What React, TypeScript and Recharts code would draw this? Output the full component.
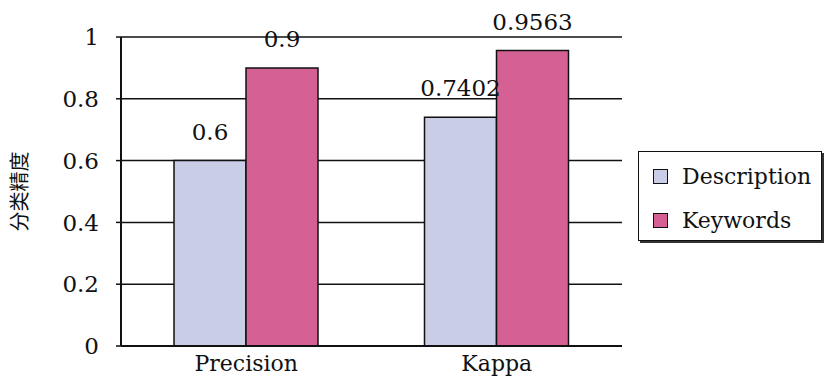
import { FC } from "react";
import {
  BarChart,
  Bar,
  XAxis,
  YAxis,
  CartesianGrid,
  LabelList,
} from "recharts";

const categories = ["Precision", "Kappa"];
const descriptionValues = [0.6, 0.7402];
const keywordsValues = [0.9, 0.9563];
const yTicks = [0, 0.2, 0.4, 0.6, 0.8, 1];
// category boundaries, where the x axis has its small inward ticks
const boundaryTicks = [1, 2];

const chartData = categories.map((name, i) => ({
  name,
  description: descriptionValues[i],
  keywords: keywordsValues[i],
}));

const FONT = "DejaVu Serif, serif";
const DESC_COLOR = "#c9cee6";
const KEY_COLOR = "#d56094";
const BORDER_BLUE = "#a9c3dd";

const series = [
  { name: "Description", color: DESC_COLOR },
  { name: "Keywords", color: KEY_COLOR },
];

// legend drawn as a plain box to the right of the plot
const LegendBox: FC = () => (
  <div
    style={{
      position: "absolute",
      left: 638,
      top: 151,
      width: 184,
      height: 90,
      border: "1.5px solid #111",
      boxShadow: "2px 2px 0 #333",
      background: "#fff",
      boxSizing: "border-box",
      padding: "2px 0 0 14px",
      fontFamily: FONT,
      fontSize: 22,
      color: "#111",
    }}
  >
    {series.map((s) => (
      <div
        key={s.name}
        style={{ display: "flex", alignItems: "center", height: 44 }}
      >
        <span
          style={{
            display: "inline-block",
            width: 15,
            height: 15,
            boxSizing: "border-box",
            background: s.color,
            border: "1.5px solid #111",
            marginRight: 14,
          }}
        />
        {s.name}
      </div>
    ))}
  </div>
);

const App: FC = () => {
  return (
    <div style={{ position: "relative", width: 827, height: 388 }}>
      <style>{`body{margin:0;background:#fff}`}</style>
      <BarChart
        width={827}
        height={388}
        data={chartData}
        margin={{ top: 37, right: 205, bottom: 0, left: 0 }}
        barCategoryGap={53}
        barGap={0}
      >
        <CartesianGrid vertical={false} stroke="#111" strokeWidth={1.5} />
        <XAxis
          xAxisId="bounds"
          type="number"
          domain={[0, 2]}
          ticks={boundaryTicks}
          height={0}
          mirror
          tickSize={6}
          tickFormatter={() => ""}
          axisLine={false}
          tickLine={{ stroke: "#111", strokeWidth: 1.5 }}
        />
        <XAxis
          dataKey="name"
          height={42}
          tickSize={0}
          tickMargin={9}
          axisLine={{ stroke: "#111", strokeWidth: 2 }}
          tick={{ fill: "#111", fontFamily: FONT, fontSize: 22 }}
          interval={0}
        />
        <XAxis
          xAxisId="top"
          orientation="top"
          dataKey="name"
          height={0}
          tick={false}
          tickLine={false}
          axisLine={{ stroke: BORDER_BLUE, strokeWidth: 1.5 }}
        />
        <YAxis
          width={121}
          domain={[0, 1]}
          ticks={yTicks}
          tickSize={5}
          tickMargin={17}
          axisLine={{ stroke: "#111", strokeWidth: 2 }}
          tickLine={{ stroke: "#111", strokeWidth: 1.5 }}
          tick={{ fill: "#111", fontFamily: FONT, fontSize: 23 }}
          label={{
            value: "分类精度",
            angle: -90,
            position: "insideLeft",
            offset: 20,
            style: {
              fill: "#111",
              fontFamily: "Noto Sans CJK SC, sans-serif",
              fontSize: 20,
              textAnchor: "middle",
            },
          }}
        />
        <YAxis
          yAxisId="right"
          orientation="right"
          width={0}
          domain={[0, 1]}
          tick={false}
          tickLine={false}
          axisLine={{ stroke: BORDER_BLUE, strokeWidth: 1.5 }}
        />
        <Bar
          dataKey="description"
          name="Description"
          fill={DESC_COLOR}
          stroke="#111"
          strokeWidth={1.5}
          isAnimationActive={false}
        >
          <LabelList
            dataKey="description"
            position="top"
            offset={21}
            style={{ fill: "#111", fontFamily: FONT, fontSize: 23 }}
          />
        </Bar>
        <Bar
          dataKey="keywords"
          name="Keywords"
          fill={KEY_COLOR}
          stroke="#111"
          strokeWidth={1.5}
          isAnimationActive={false}
        >
          <LabelList
            dataKey="keywords"
            position="top"
            offset={21}
            style={{ fill: "#111", fontFamily: FONT, fontSize: 23 }}
          />
        </Bar>
      </BarChart>
      <LegendBox />
    </div>
  );
};

export default App;
